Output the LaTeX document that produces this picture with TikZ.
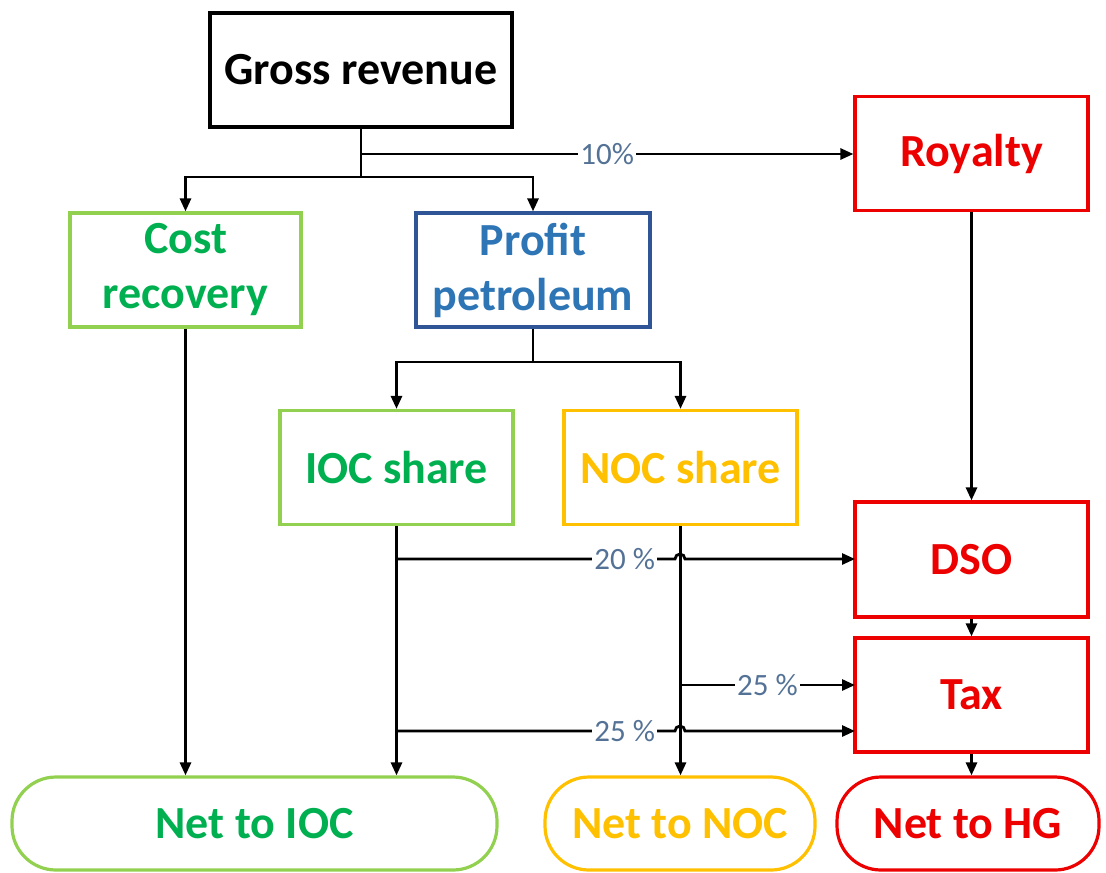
\documentclass[tikz,border=0pt]{standalone}
\usepackage{fontspec}
\setmainfont{Carlito}
\usetikzlibrary{arrows.meta}
\definecolor{lgreen}{RGB}{146,208,80}
\definecolor{dgreen}{RGB}{0,176,80}
\definecolor{bborder}{RGB}{47,85,151}
\definecolor{btext}{RGB}{46,117,182}
\definecolor{yel}{RGB}{255,192,0}
\definecolor{rd}{RGB}{236,0,0}
\definecolor{lblc}{RGB}{84,114,150}
\tikzset{
  box/.style={draw, line width=1.6pt, minimum width=#1, minimum height=57pt, align=center, inner sep=2pt,
    font=\bfseries\fontsize{23}{27.5}\selectfont},
  netbox/.style={draw, line width=1.6pt, rounded corners=22pt, minimum width=#1, minimum height=46.5pt,
    font=\bfseries\fontsize{23}{27.5}\selectfont},
  arr/.style={line width=1.4pt, -{Triangle[length=6.5pt,width=5.5pt]}},
  ln/.style={line width=1.4pt},
  lbl/.style={fill=white, text=lblc, inner sep=1pt, font=\fontsize{15.5}{18}\selectfont},
}
\begin{document}
\begin{tikzpicture}[x=0.5pt,y=-0.5pt]
\useasboundingbox (0,0) rectangle (1106,872);
% nodes
\node[box=151pt, draw=black, text=black] (gross) at (361,70) {Gross revenue};
\node[box=115.5pt, draw=lgreen, text=dgreen] (cost) at (185.5,270) {Cost\\recovery};
\node[box=117pt, draw=bborder, text=btext] (profit) at (533,270) {Profit\\petroleum};
\node[box=116.5pt, draw=rd, text=rd] (royalty) at (971.5,153.5) {Royalty};
\node[box=116.5pt, draw=lgreen, text=dgreen] (ioc) at (396.5,467.5) {IOC share};
\node[box=116.5pt, draw=yel, text=yel] (noc) at (680.5,467.5) {NOC share};
\node[box=116.5pt, draw=rd, text=rd, minimum height=57.5pt] (dso) at (971.5,559.5) {DSO};
\node[box=116.5pt, draw=rd, text=rd] (tax) at (971.5,695) {Tax};
\node[netbox=242.5pt, draw=lgreen, text=dgreen] (netioc) at (254.5,823.5) {Net to IOC};
\node[netbox=135pt, draw=yel, text=yel] (netnoc) at (680,823.5) {Net to NOC};
\node[netbox=131pt, draw=rd, text=rd] (nethg) at (968,823.5) {Net to HG};
% coordinates
\coordinate (b1) at (361,177);
\coordinate (b2) at (533,362);
\coordinate (t10) at (361,154);
\coordinate (s20) at (396,559);
\coordinate (h20) at (675,559);
\coordinate (e20) at (855,559);
\coordinate (s25a) at (680,685);
\coordinate (e25a) at (855,685);
\coordinate (s25b) at (396,731);
\coordinate (h25b) at (675,731);
\coordinate (e25b) at (855,731);
% connectors top
\draw[ln] (gross.south) -- (b1);
\draw[arr] (b1) -| (cost.north);
\draw[arr] (b1) -| (profit.north);
\draw[arr] (t10) -- node[lbl]{10\%} (t10 -| royalty.west);
\draw[arr] (royalty.south) -- (dso.north);
\draw[ln] (profit.south) -- (b2);
\draw[arr] (b2) -| (ioc.north);
\draw[arr] (b2) -| (noc.north);
% verticals to bottom
\draw[arr] (cost.south) -- (cost.south |- netioc.north);
\draw[arr] (ioc.south) -- (ioc.south |- netioc.north);
\draw[arr] (noc.south) -- (noc.south |- netnoc.north);
\draw[arr] (dso.south) -- (tax.north);
\draw[arr] (tax.south) -- (tax.south |- nethg.north);
% percentage flows
\draw[arr] (s20) -- node[lbl, pos=0.82]{20 \%} (h20) arc[start angle=180, end angle=0, radius=2.5pt] -- (e20);
\draw[arr] (s25a) -- node[lbl]{25 \%} (e25a);
\draw[arr] (s25b) -- node[lbl, pos=0.82]{25 \%} (h25b) arc[start angle=180, end angle=0, radius=2.5pt] -- (e25b);
\end{tikzpicture}
\end{document}
